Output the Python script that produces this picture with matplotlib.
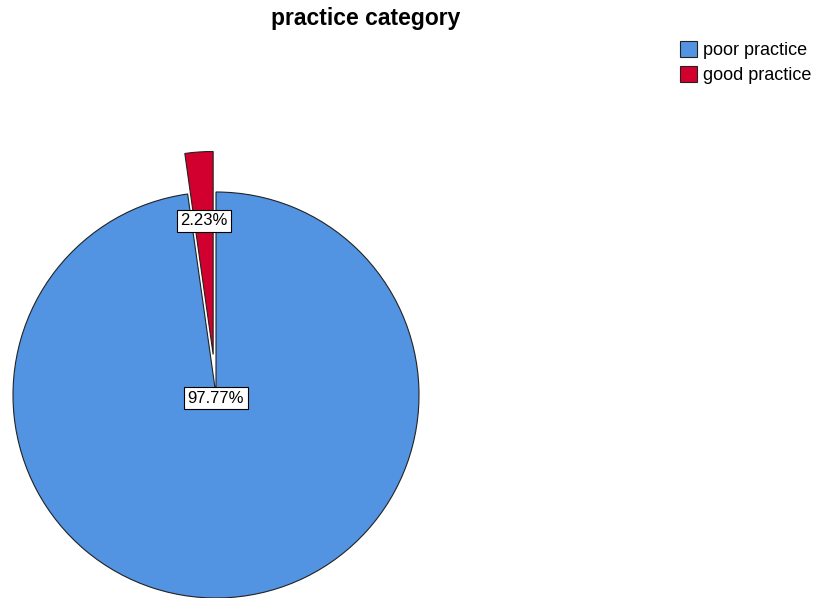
import matplotlib.pyplot as plt

plt.rcParams['font.family'] = ['Liberation Sans', 'DejaVu Sans']

categories = ['poor practice', 'good practice']
shares = [97.77, 2.23]
colors = ['#5294e2', '#d2002f']

W, H, R = 819, 598, 203.0
fig = plt.figure(figsize=(W / 100, H / 100), dpi=100)

# axes in pixel terms: pie center at (216, 395) from top-left, radius R
ax = fig.add_axes([0, 0, 432 / W, 1])
wedges, texts, autotexts = ax.pie(
    shares, colors=colors, startangle=90, counterclock=False,
    explode=[0, 0.2], autopct='%.2f%%', pctdistance=0.66,
    wedgeprops=dict(edgecolor='#222222', linewidth=0.8),
    textprops=dict(fontsize=12, color='black'))
ax.set_aspect('auto')
ax.set_xlim(-216 / R, 216 / R)
ax.set_ylim(-203 / R, 395 / R)
ax.axis('off')

# the big slice label sits at the middle of the pie
autotexts[0].set_position((0, -0.015))
for t in autotexts:
    t.set_bbox(dict(boxstyle='square,pad=0.2', facecolor='white',
                    edgecolor='black', linewidth=0.8))

fig.text(366 / W, 1 - 19 / H, 'practice category', ha='center', va='center',
         fontsize=16.5, fontweight='bold')

fig.legend(wedges, categories, loc='upper left',
           bbox_to_anchor=(680 / W, 1 - 41 / H), frameon=False,
           fontsize=13, handlelength=0.95, handleheight=0.95,
           handletextpad=0.3, labelspacing=0.4, borderaxespad=0,
           borderpad=0)

fig.savefig('out.png', dpi=100)
